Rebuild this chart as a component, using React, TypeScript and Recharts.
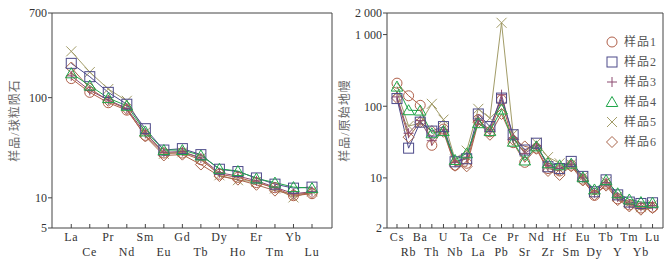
import React from "react";
import { Legend, Line, LineChart, ReferenceArea, XAxis, YAxis } from "recharts";

// ---- data: chondrite-normalised REE (left panel) ----
const REE = ["La", "Ce", "Pr", "Nd", "Sm", "Eu", "Gd", "Tb", "Dy", "Ho", "Er", "Tm", "Yb", "Lu"];
const REE_S1 = [155, 113, 89, 75, 42, 28, 28, 24, 17.2, 16, 14.2, 12.6, 10.5, 11];
const REE_S2 = [220, 162, 113, 86, 49, 30, 31, 27, 19.3, 18.3, 15.8, 13.7, 12.5, 12.8];
const REE_S3 = [165, 118, 95, 78, 44, 28.5, 29, 25, 17.8, 16.5, 14.8, 12.8, 11, 11.5];
const REE_S4 = [175, 132, 99, 83, 46, 30, 30, 26.5, 19.5, 18.5, 15.6, 14.2, 12.8, 12.5];
const REE_S5 = [290, 180, 122, 93, 45, 27.5, 28.5, 25, 16.8, 15, 14.5, 12.4, 10.1, 11.6];
const REE_S6 = [200, 124, 93, 77, 41, 26.5, 27, 21.5, 16.5, 15.2, 13.5, 11.8, 10.8, 11.2];
const REE_TICKS = [5, 10, 100, 700];

// ---- data: primitive-mantle-normalised trace elements (right panel) ----
const SPIDER = [
  "Cs", "Rb", "Ba", "Th", "U", "Nb", "Ta", "La", "Ce", "Pb", "Pr", "Sr",
  "Nd", "Zr", "Hf", "Sm", "Eu", "Dy", "Tb", "Y", "Tm", "Yb", "Lu",
];
const SP_S1 = [210, 140, 103, 28.5, 48, 15, 16, 65, 44, 122, 31, 16.5, 26, 13.5, 12.5, 15, 9.6, 5.7, 8.2, 5.1, 4.2, 3.8, 3.9];
const SP_S2 = [128, 26, 60, 45, 52, 16.8, 18.5, 78, 52, 130, 40, 24.5, 30.5, 14.3, 13.5, 17, 10.5, 6.4, 9.4, 5.8, 4.6, 4.4, 4.5];
const SP_S3 = [135, 42, 63, 33, 47, 16.5, 19.5, 63, 47, 145, 36, 22, 28, 15, 13.5, 15.5, 10, 6.2, 8.6, 5.4, 4.3, 4.0, 4.1];
const SP_S4 = [188, 88, 87, 42, 45, 17.8, 22, 58, 45, 90, 32, 17.5, 27.5, 16, 15, 15.8, 10.2, 6.9, 9.3, 6.1, 5.0, 4.6, 4.5];
const SP_S5 = [158, 53, 58, 108, 65, 18, 24, 92, 68, 1460, 41, 23, 31, 19.5, 16, 15.5, 10.3, 6.3, 8.8, 5.5, 4.4, 3.9, 4.2];
const SP_S6 = [130, 37, 60, 45, 44, 14.8, 14.5, 60, 40, 78, 34, 27.5, 25.5, 12.5, 11, 14.5, 9.2, 5.8, 7.8, 4.9, 4.0, 3.6, 3.8];
const SPIDER_TICKS = [2, 10, 100, 1000, 2000];

type Shape = "circle" | "square" | "plus" | "triangle" | "cross" | "diamond";

const SERIES: { key: string; name: string; shape: Shape; color: string }[] = [
  { key: "s1", name: "样品1", shape: "circle", color: "#b0604a" },
  { key: "s2", name: "样品2", shape: "square", color: "#4d4a8a" },
  { key: "s3", name: "样品3", shape: "plus", color: "#8c4a70" },
  { key: "s4", name: "样品4", shape: "triangle", color: "#1fa64a" },
  { key: "s5", name: "样品5", shape: "cross", color: "#a29c68" },
  { key: "s6", name: "样品6", shape: "diamond", color: "#a8644a" },
];
// drawing order (green on top, as in the figure)
const DRAW_ORDER = ["s5", "s6", "s1", "s3", "s2", "s4"];

const AXIS = "#444";
const TEXT = "#333";
const SERIF = "'Liberation Serif', 'Times New Roman', serif";
const CJK = "'Liberation Serif', 'Noto Sans CJK SC', sans-serif";

function toRows(names: string[], cols: number[][]) {
  return names.map((el, i) => {
    const row: Record<string, number | string> = { idx: i, el };
    SERIES.forEach((s, j) => {
      row[s.key] = cols[j][i];
    });
    return row;
  });
}

const reeRows = toRows(REE, [REE_S1, REE_S2, REE_S3, REE_S4, REE_S5, REE_S6]);
const spRows = toRows(SPIDER, [SP_S1, SP_S2, SP_S3, SP_S4, SP_S5, SP_S6]);

function Marker({ shape, cx, cy, color }: { shape: Shape; cx: number; cy: number; color: string }) {
  const p = { fill: "none", stroke: color, strokeWidth: 1 };
  const r = 5;
  switch (shape) {
    case "circle":
      return <circle cx={cx} cy={cy} r={r} {...p} />;
    case "square":
      return <rect x={cx - r} y={cy - r} width={2 * r} height={2 * r} {...p} />;
    case "plus":
      return <path d={`M${cx - r},${cy}H${cx + r}M${cx},${cy - r}V${cy + r}`} {...p} />;
    case "triangle":
      return <path d={`M${cx},${cy - 5.5}L${cx + 5.8},${cy + 4.5}L${cx - 5.8},${cy + 4.5}Z`} {...p} />;
    case "cross":
      return <path d={`M${cx - r},${cy - r}L${cx + r},${cy + r}M${cx - r},${cy + r}L${cx + r},${cy - r}`} {...p} />;
    default:
      return <path d={`M${cx},${cy - 5.5}L${cx + 5.5},${cy}L${cx},${cy + 5.5}L${cx - 5.5},${cy}Z`} {...p} />;
  }
}

function dotFor(key: string, shape: Shape, color: string) {
  return (props: any) => {
    const { cx, cy, index } = props;
    if (cx == null || cy == null) return <g key={`${key}-${index}`} />;
    return <Marker key={`${key}-${index}`} shape={shape} cx={cx} cy={cy} color={color} />;
  };
}

// two-row category labels with short inward tick marks
function CatTick(props: any) {
  const { x, y, payload, names } = props;
  const i = Number(payload.value);
  const lower = i % 2 === 1;
  return (
    <g>
      <line x1={x} x2={x} y1={y} y2={y - 4} stroke={AXIS} />
      <text
        x={x}
        y={y + (lower ? 27.5 : 13)}
        textAnchor="middle"
        fill={TEXT}
        fontSize={12}
        fontFamily={SERIF}
        letterSpacing={0.8}
      >
        {names[i]}
      </text>
    </g>
  );
}

function yTitle(text: string, dx: number) {
  return (props: any) => {
    const vb = props.viewBox || {};
    const cx = (vb.x ?? 0) + dx;
    const cy = (vb.y ?? 0) + (vb.height ?? 0) / 2;
    return (
      <text
        x={cx}
        y={cy}
        transform={`rotate(-90 ${cx} ${cy})`}
        textAnchor="middle"
        dominantBaseline="central"
        fill="#666"
        fontSize={12}
        letterSpacing={1}
        fontFamily={CJK}
      >
        {text}
      </text>
    );
  };
}

function spaced(v: number): string {
  return String(v).replace(/\B(?=(\d{3})+$)/g, " ");
}

function LegendBox() {
  return (
    <div style={{ display: "flex", flexDirection: "column" }}>
      {SERIES.map((s) => (
        <div key={s.key} style={{ display: "flex", alignItems: "center", height: 20 }}>
          <svg width={12} height={12} style={{ overflow: "visible" }}>
            <Marker shape={s.shape} cx={6} cy={6} color={s.color} />
          </svg>
          <span
            style={{
              marginLeft: 6,
              fontFamily: CJK,
              fontSize: 12,
              letterSpacing: 1,
              color: "#555",
              lineHeight: "20px",
            }}
          >
            {s.name}
          </span>
        </div>
      ))}
    </div>
  );
}

function renderLines() {
  return DRAW_ORDER.map((k) => {
    const s = SERIES.find((x) => x.key === k)!;
    return (
      <Line
        key={s.key}
        type="linear"
        dataKey={s.key}
        name={s.name}
        stroke={s.color}
        strokeWidth={1}
        dot={dotFor(s.key, s.shape, s.color)}
        activeDot={false}
        isAnimationActive={false}
      />
    );
  });
}

const REE_X: [number, number] = [-1.04, 14.08];
const SP_X: [number, number] = [-0.86, 22.9];

export default function App() {
  return (
    <div style={{ position: "fixed", left: 0, top: 0, width: 670, height: 263, background: "#fff" }}>
      <div style={{ position: "absolute", left: 0, top: 0 }}>
        <LineChart width={335} height={263} data={reeRows} margin={{ top: 13, right: 3, bottom: 0, left: 12 }}>
          <XAxis
            dataKey="idx"
            type="number"
            domain={REE_X}
            ticks={REE.map((_, i) => i)}
            interval={0}
            allowDataOverflow
            height={35}
            axisLine={false}
            tickLine={false}
            tickSize={0}
            tickMargin={0}
            tick={(p: any) => <CatTick {...p} names={REE} />}
          />
          <YAxis
            type="number"
            scale="log"
            domain={[5, 700]}
            ticks={REE_TICKS}
            interval={0}
            allowDataOverflow
            width={40}
            axisLine={false}
            tickLine={{ stroke: AXIS }}
            tickSize={4}
            tickMargin={1}
            tick={{ fill: TEXT, fontSize: 12, fontFamily: SERIF }}
            label={{ content: yTitle("样品/球粒陨石", 3) }}
          />
          <ReferenceArea
            x1={REE_X[0]}
            x2={REE_X[1]}
            y1={5}
            y2={700}
            fill="none"
            stroke={AXIS}
            strokeWidth={1}
            ifOverflow="visible"
          />
          {renderLines()}
        </LineChart>
      </div>
      <div style={{ position: "absolute", left: 335, top: 0 }}>
        <LineChart width={335} height={263} data={spRows} margin={{ top: 13, right: 7, bottom: 0, left: 12 }}>
          <XAxis
            dataKey="idx"
            type="number"
            domain={SP_X}
            ticks={SPIDER.map((_, i) => i)}
            interval={0}
            allowDataOverflow
            height={35}
            axisLine={false}
            tickLine={false}
            tickSize={0}
            tickMargin={0}
            tick={(p: any) => <CatTick {...p} names={SPIDER} />}
          />
          <YAxis
            type="number"
            scale="log"
            domain={[2, 2000]}
            ticks={SPIDER_TICKS}
            interval={0}
            allowDataOverflow
            width={40}
            axisLine={false}
            tickLine={{ stroke: AXIS }}
            tickSize={4}
            tickMargin={1}
            tick={{ fill: TEXT, fontSize: 12, fontFamily: SERIF }}
            tickFormatter={(v: number) => spaced(v)}
            label={{ content: yTitle("样品/原始地幔", -2) }}
          />
          <ReferenceArea
            x1={SP_X[0]}
            x2={SP_X[1]}
            y1={2}
            y2={2000}
            fill="none"
            stroke={AXIS}
            strokeWidth={1}
            ifOverflow="visible"
          />
          {renderLines()}
          <Legend
            layout="vertical"
            align="center"
            verticalAlign="middle"
            wrapperStyle={{ left: 271, top: 32, width: "auto", height: "auto" }}
            content={() => <LegendBox />}
          />
        </LineChart>
      </div>
    </div>
  );
}
